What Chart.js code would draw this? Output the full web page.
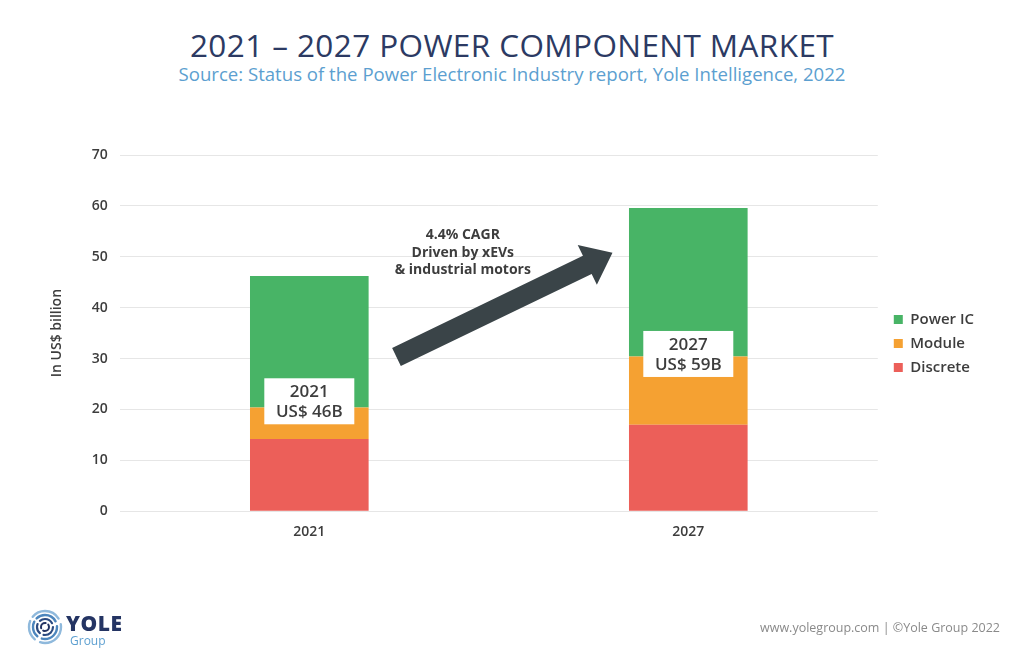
<!DOCTYPE html>
<html>
<head>
<meta charset="utf-8">
<script src="https://cdn.jsdelivr.net/npm/chart.js@4"></script>
<style>
  body { margin: 0; background: #fff; font-family: "Open Sans", sans-serif; }
  #wrap { position: absolute; left: 0; top: 0; width: 1024px; height: 662px; }
  .title { position: absolute; left: 0; width: 1024px; text-align: center; top: 23px; font-size: 31.5px; color: #2c3a63; letter-spacing: 0.4px; }
  .sub { position: absolute; left: 0; width: 1024px; text-align: center; top: 61px; font-size: 18.6px; color: #5c9fd0; }
  .foot { position: absolute; right: 24px; top: 619px; font-size: 12.5px; color: #8a8a8a; }
  .logo { position: absolute; left: 27px; top: 607px; }
  .yole { position: absolute; left: 66px; top: 609px; font-size: 21px; font-weight: 800; color: #243463; letter-spacing: 0.5px; }
  .grp { position: absolute; left: 70px; top: 632px; font-size: 12px; color: #5c9fd0; }
</style>
</head>
<body>
<div class="title">2021 – 2027 POWER COMPONENT MARKET</div>
<div class="sub">Source: Status of the Power Electronic Industry report, Yole Intelligence, 2022</div>
<div id="wrap"><canvas id="chart"></canvas></div>
<svg class="logo" width="36" height="40" viewBox="0 0 36 40">
  <g fill="none" stroke-linecap="round">
    <circle cx="18" cy="20" r="16" stroke="#8fb9dc" stroke-width="2.4" stroke-dasharray="30 6 20 5"/>
    <circle cx="18" cy="20" r="12" stroke="#4d86bd" stroke-width="2.4" stroke-dasharray="22 5 16 4"/>
    <circle cx="18" cy="20" r="8" stroke="#2b4a80" stroke-width="2.2" stroke-dasharray="14 4 10 4"/>
    <circle cx="18" cy="20" r="4" stroke="#243463" stroke-width="2" stroke-dasharray="8 3"/>
  </g>
</svg>
<div class="yole">YOLE</div>
<div class="grp">Group</div>
<div class="foot">www.yolegroup.com | ©Yole Group 2022</div>
<script>
const years = ["2021", "2027"];
const discrete = [14.2, 17.0];
const moduleVals = [6.2, 13.4];
const powerIC = [25.8, 29.2];
const totals = ["US$ 46B", "US$ 59B"];
const yTicks = [0, 10, 20, 30, 40, 50, 60, 70];

const textColor = "#3d3d3d";

// nudge the legend block a little away from the plot and upwards
const legendShift = {
  id: "legendShift",
  afterInit(chart) {
    const lg = chart.legend;
    if (!lg || lg._shifted) return;
    const draw = lg.draw;
    lg.draw = function () {
      this.ctx.save();
      this.ctx.translate(7, -10);
      draw.call(this);
      this.ctx.restore();
    };
    lg._shifted = true;
  }
};

// white boxes on the bars and the CAGR arrow, placed through the scales
const notes = {
  id: "notes",
  afterDatasetsDraw(chart) {
    const { ctx, scales: { x, y } } = chart;
    const at = (i) => x.getPixelForValue(0) + i * (x.getPixelForValue(1) - x.getPixelForValue(0));
    ctx.save();

    // arrow
    const x0 = at(0.23), y0 = y.getPixelForValue(30.3);
    const x1 = at(0.80), y1 = y.getPixelForValue(50.8);
    const ang = Math.atan2(y1 - y0, x1 - x0);
    const len = Math.hypot(x1 - x0, y1 - y0);
    const head = 28, hw = 22, sw = 10;
    ctx.translate(x0, y0);
    ctx.rotate(ang);
    ctx.beginPath();
    ctx.moveTo(0, -sw);
    ctx.lineTo(len - head, -sw);
    ctx.lineTo(len - head, -hw);
    ctx.lineTo(len, 0);
    ctx.lineTo(len - head, hw);
    ctx.lineTo(len - head, sw);
    ctx.lineTo(0, sw);
    ctx.closePath();
    ctx.fillStyle = "#3a4448";
    ctx.fill();
    ctx.setTransform(1, 0, 0, 1, 0, 0);
    ctx.scale(chart.currentDevicePixelRatio, chart.currentDevicePixelRatio);

    ctx.fillStyle = textColor;
    ctx.font = "bold 14px 'Open Sans'";
    ctx.textAlign = "center";
    ctx.textBaseline = "middle";
    const tx = at(0.405);
    ctx.fillText("4.4% CAGR", tx, y.getPixelForValue(54.2));
    ctx.fillText("Driven by xEVs", tx, y.getPixelForValue(50.8));
    ctx.fillText("& industrial motors", tx, y.getPixelForValue(47.4));

    // value boxes
    const boxY = [21.6, 30.9];
    years.forEach((yr, i) => {
      const cx = x.getPixelForValue(i);
      const cy = y.getPixelForValue(boxY[i]);
      ctx.fillStyle = "#ffffff";
      ctx.fillRect(cx - 45, cy - 23, 90, 46);
      ctx.fillStyle = textColor;
      ctx.font = "600 17px 'Open Sans'";
      ctx.fillText(yr, cx, cy - 9);
      ctx.fillText(totals[i], cx, cy + 11);
    });
    ctx.restore();
  }
};

new Chart(document.getElementById("chart"), {
  type: "bar",
  data: {
    labels: years,
    datasets: [
      { label: "Discrete", data: discrete, backgroundColor: "#ec5f59" },
      { label: "Module", data: moduleVals, backgroundColor: "#f5a132" },
      { label: "Power IC", data: powerIC, backgroundColor: "#48b466" }
    ]
  },
  options: {
    responsive: true,
    maintainAspectRatio: false,
    animation: false,
    layout: { padding: { top: 155, bottom: 110, left: 45, right: 47 } },
    datasets: { bar: { barPercentage: 1, categoryPercentage: 0.313 } },
    plugins: {
      legend: {
        position: "right",
        reverse: true,
        labels: { boxWidth: 9, boxHeight: 9, padding: 9, color: textColor, font: { family: "Open Sans", size: 15, weight: "600" } }
      },
      tooltip: { enabled: false }
    },
    scales: {
      x: {
        stacked: true,
        grid: { display: false, drawTicks: false },
        border: { display: false },
        ticks: { color: textColor, padding: 12, font: { family: "Open Sans", size: 14, weight: "600" } }
      },
      y: {
        stacked: true,
        min: 0,
        max: 70,
        afterBuildTicks: (s) => { s.ticks = yTicks.map(v => ({ value: v })); },
        grid: { color: "#e6e6e6", drawTicks: false },
        border: { display: false },
        ticks: { color: textColor, padding: 12, font: { family: "Open Sans", size: 14, weight: "600" } },
        title: { display: true, text: "In US$ billion", color: textColor, padding: { bottom: 14 }, font: { family: "Open Sans", size: 14, weight: "600" } }
      }
    }
  },
  plugins: [legendShift, notes]
});
</script>
</body>
</html>
